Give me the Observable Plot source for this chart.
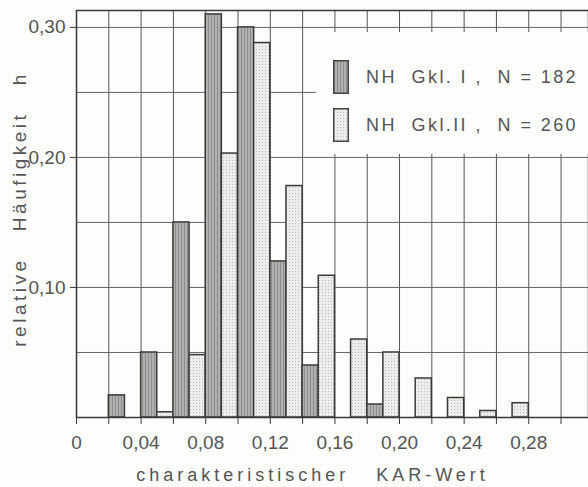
<!DOCTYPE html>
<html><head><meta charset="utf-8">
<script src="https://cdn.jsdelivr.net/npm/d3@7"></script>
<script src="https://cdn.jsdelivr.net/npm/@observablehq/plot@0.6"></script>
<style>
body{margin:0;background:#fdfdfc;}
#wrap{position:relative;width:588px;height:487px;overflow:hidden;font-family:"Liberation Sans",Arial,sans-serif;}
#legend{position:absolute;left:316px;top:32px;width:280px;height:122px;background:#fdfdfc;color:#555;font-size:18px;letter-spacing:2.4px;white-space:nowrap;}
.item{position:absolute;left:17px;display:flex;align-items:center;}
.sw{margin-right:17px;}
</style></head>
<body><div id="wrap"><div id="legend">
<div class="item" style="top:28px"><svg class="sw" width="16" height="34"><rect x="0.75" y="0.75" width="14.5" height="32.5" fill="url(#pI)" stroke="#444" stroke-width="1.5"/></svg><span id="l1"></span></div>
<div class="item" style="top:76px"><svg class="sw" width="16" height="34"><rect x="0.75" y="0.75" width="14.5" height="32.5" fill="url(#pII)" stroke="#444" stroke-width="1.5"/></svg><span id="l2"></span></div>
</div></div>
<script>
// bin starts (class lower bounds)
const bins = [0.02, 0.04, 0.06, 0.08, 0.10, 0.12, 0.14, 0.16, 0.18, 0.20, 0.22, 0.24, 0.26];
const gklI  = [0.017, 0.05, 0.15, 0.31, 0.30, 0.12, 0.04, 0, 0.01, 0, 0, 0, 0];
const gklII = [0, 0.004, 0.048, 0.203, 0.288, 0.178, 0.109, 0.06, 0.05, 0.03, 0.015, 0.005, 0.011];
const seriesNames = ["NH\u00a0 Gkl. I ,\u00a0 N = 182", "NH\u00a0 Gkl.II ,\u00a0 N = 260"];
const xTickValues = [0, 0.04, 0.08, 0.12, 0.16, 0.20, 0.24, 0.28];
const yTickValues = [0.10, 0.20, 0.30];
const xGrid = d3.range(0, 0.301, 0.02);
const yGrid = [0.05, 0.10, 0.15, 0.20, 0.25, 0.30];
const xTitle = "charakteristischer\u00a0\u00a0 KAR-Wert";
const yTitle = "relative\u00a0\u00a0 Häufigkeit\u00a0\u00a0 h";
const binWidth = 0.02;

document.getElementById("l1").textContent = seriesNames[0];
document.getElementById("l2").textContent = seriesNames[1];

const rows = [];
bins.forEach((b, i) => {
  if (gklI[i] > 0) rows.push({s: 0, x1: b, x2: b + binWidth / 2, h: gklI[i]});
  if (gklII[i] > 0) rows.push({s: 1, x1: b + binWidth / 2, x2: b + binWidth, h: gklII[i]});
});
const fmt = d => d === 0 ? "0" : d3.format(".2f")(d).replace(".", ",");

const chart = Plot.plot({
  width: 588, height: 487,
  marginLeft: 76, marginRight: 0, marginTop: 10, marginBottom: 70,
  style: {fontFamily: '"Liberation Sans", Arial, sans-serif', background: "transparent", color: "#444"},
  x: {domain: [0, 0.317]},
  y: {domain: [0, 0.313]},
  marks: [
    Plot.ruleX(xGrid, {stroke: "#555", strokeWidth: 1}),
    Plot.ruleY(yGrid, {stroke: "#666", strokeWidth: 1}),
    Plot.rectY(rows, {x1: "x1", x2: "x2", y1: 0, y2: "h",
      fill: d => d.s === 0 ? "url(#pI)" : "url(#pII)", stroke: "#3a3a3a", strokeWidth: 1.5}),
    Plot.frame({stroke: "#3a3a3a", strokeWidth: 1.5}),
    Plot.axisX(xGrid, {tickSize: 7, tickFormat: () => "", stroke: "#3a3a3a"}),
    Plot.axisX(xTickValues, {tickSize: 0, tickPadding: 18, tickFormat: fmt, fontSize: 19, fill: "#555", label: null}),
    Plot.axisY(yTickValues, {tickSize: 6, tickPadding: 5, tickFormat: fmt, fontSize: 19, fill: "#555", stroke: "#3a3a3a", label: null}),
    Plot.text([xTitle], {frameAnchor: "bottom", dx: -20, dy: 63, fontSize: 18, fill: "#555", text: d => d, className: "xtitle"}),
    Plot.text([yTitle], {frameAnchor: "left", textAnchor: "middle", dx: -57, dy: -5, rotate: -90, fontSize: 19, fill: "#555", text: d => d, className: "ytitle"})
  ]
});
// patterns
const defs = d3.select(chart).insert("defs", ":first-child");
const p1 = defs.append("pattern").attr("id", "pI").attr("patternUnits", "userSpaceOnUse").attr("width", 3).attr("height", 3);
p1.append("rect").attr("width", 3).attr("height", 3).attr("fill", "#b0b0b0");
p1.append("rect").attr("x", 1).attr("width", 1).attr("height", 3).attr("fill", "#8e8e8e");
const p2 = defs.append("pattern").attr("id", "pII").attr("patternUnits", "userSpaceOnUse").attr("width", 3).attr("height", 3);
p2.append("rect").attr("width", 3).attr("height", 3).attr("fill", "#ededed");
p2.append("rect").attr("x", 1).attr("y", 1).attr("width", 1).attr("height", 1).attr("fill", "#bdbdbd");
d3.select(chart).selectAll(".xtitle, .xtitle text").attr("letter-spacing", "4px");
d3.select(chart).selectAll(".ytitle, .ytitle text").attr("letter-spacing", "3.5px");
document.getElementById("wrap").insertBefore(chart, document.getElementById("legend"));
</script></body></html>
